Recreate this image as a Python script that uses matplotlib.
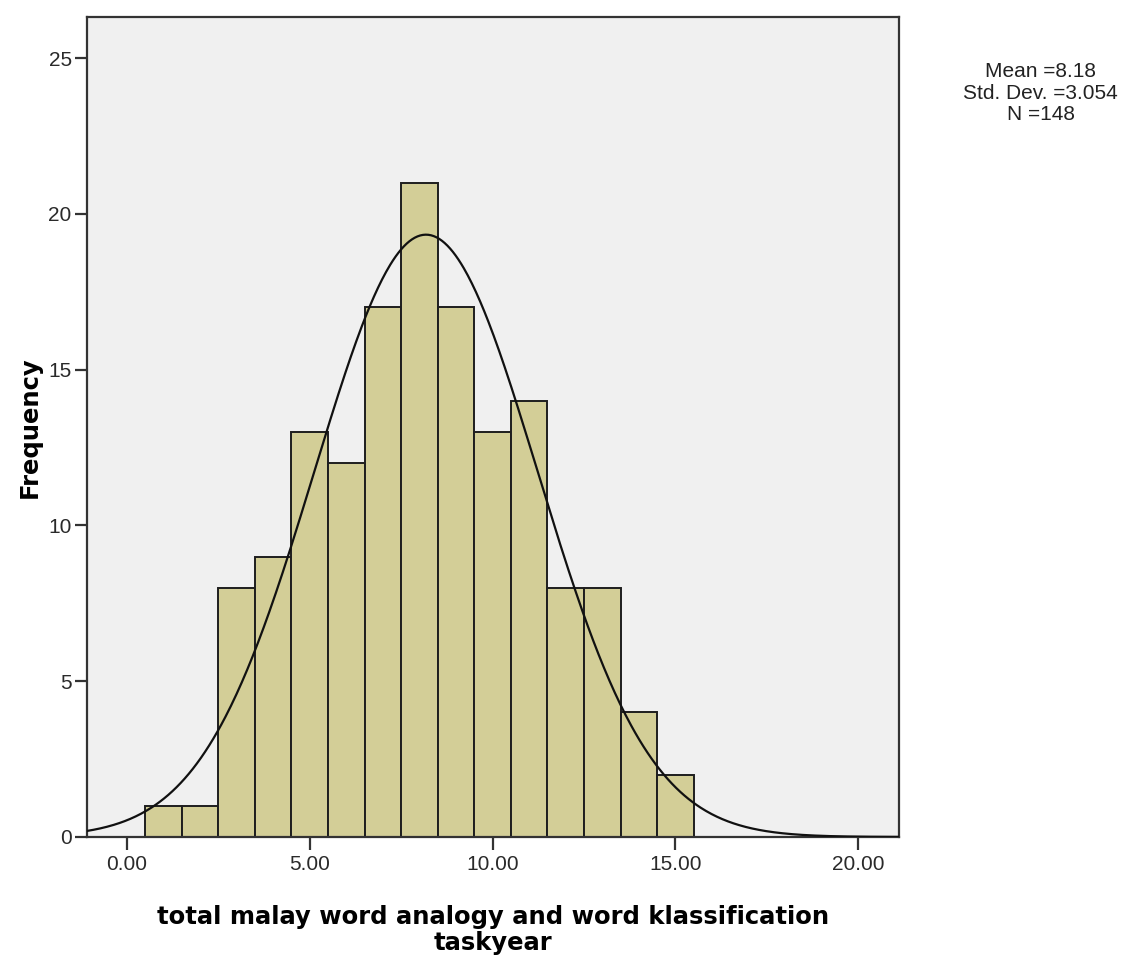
import matplotlib.pyplot as plt
import numpy as np

# histogram counts, bins of width 1 centred on 1..15
bin_centers = [1, 2, 3, 4, 5, 6, 7, 8, 9, 10, 11, 12, 13, 14, 15]
counts = [1, 1, 8, 9, 13, 12, 17, 21, 17, 13, 14, 8, 8, 4, 2]
mean = 8.18
std_dev = 3.054
n = 148
bin_width = 1.0

x_ticks = [0, 5, 10, 15, 20]
x_ticklabels = ["0.00", "5.00", "10.00", "15.00", "20.00"]
y_ticks = [0, 5, 10, 15, 20, 25]

fig = plt.figure(figsize=(11.25, 9.55), dpi=100)
ax = fig.add_axes([0.0773, 0.1236, 0.7217, 0.8586])
ax.set_facecolor("#f0f0f0")

ax.bar(bin_centers, counts, width=bin_width, color="#d3ce97",
       edgecolor="#1e1e1e", linewidth=1.4, zorder=2)

# normal curve scaled to counts
xs = np.linspace(-1.1, 21.2, 600)
ys = n * bin_width / (std_dev * np.sqrt(2 * np.pi)) * np.exp(-0.5 * ((xs - mean) / std_dev) ** 2)
ax.plot(xs, ys, color="#111111", linewidth=1.6, zorder=3)

ax.set_xlim(-1.09, 21.11)
ax.set_ylim(0, 26.32)
ax.set_xticks(x_ticks)
ax.set_xticklabels(x_ticklabels)
ax.set_yticks(y_ticks)

for side in ax.spines.values():
    side.set_color("#333333")
    side.set_linewidth(1.6)

ax.tick_params(direction="out", length=9, width=1.6, color="#333333",
               labelsize=15, labelcolor="#2a2a2a")
ax.tick_params(axis="y", pad=2)
ax.tick_params(axis="x", pad=4)
for lbl in ax.get_xticklabels() + ax.get_yticklabels():
    lbl.set_family("Liberation Sans")

ax.set_xlabel("total malay word analogy and word klassification\ntaskyear",
              fontsize=17.5, fontweight="bold", family="DejaVu Sans",
              linespacing=1.15, labelpad=22)
ax.set_ylabel("Frequency", fontsize=17.5, fontweight="bold",
              family="DejaVu Sans", labelpad=5)

fig.text(0.925, 0.9026, "Mean =8.18\nStd. Dev. =3.054\nN =148",
         ha="center", va="center", fontsize=15, family="Liberation Sans",
         color="#222222", linespacing=1.15)

fig.savefig("out.png", dpi=100)
